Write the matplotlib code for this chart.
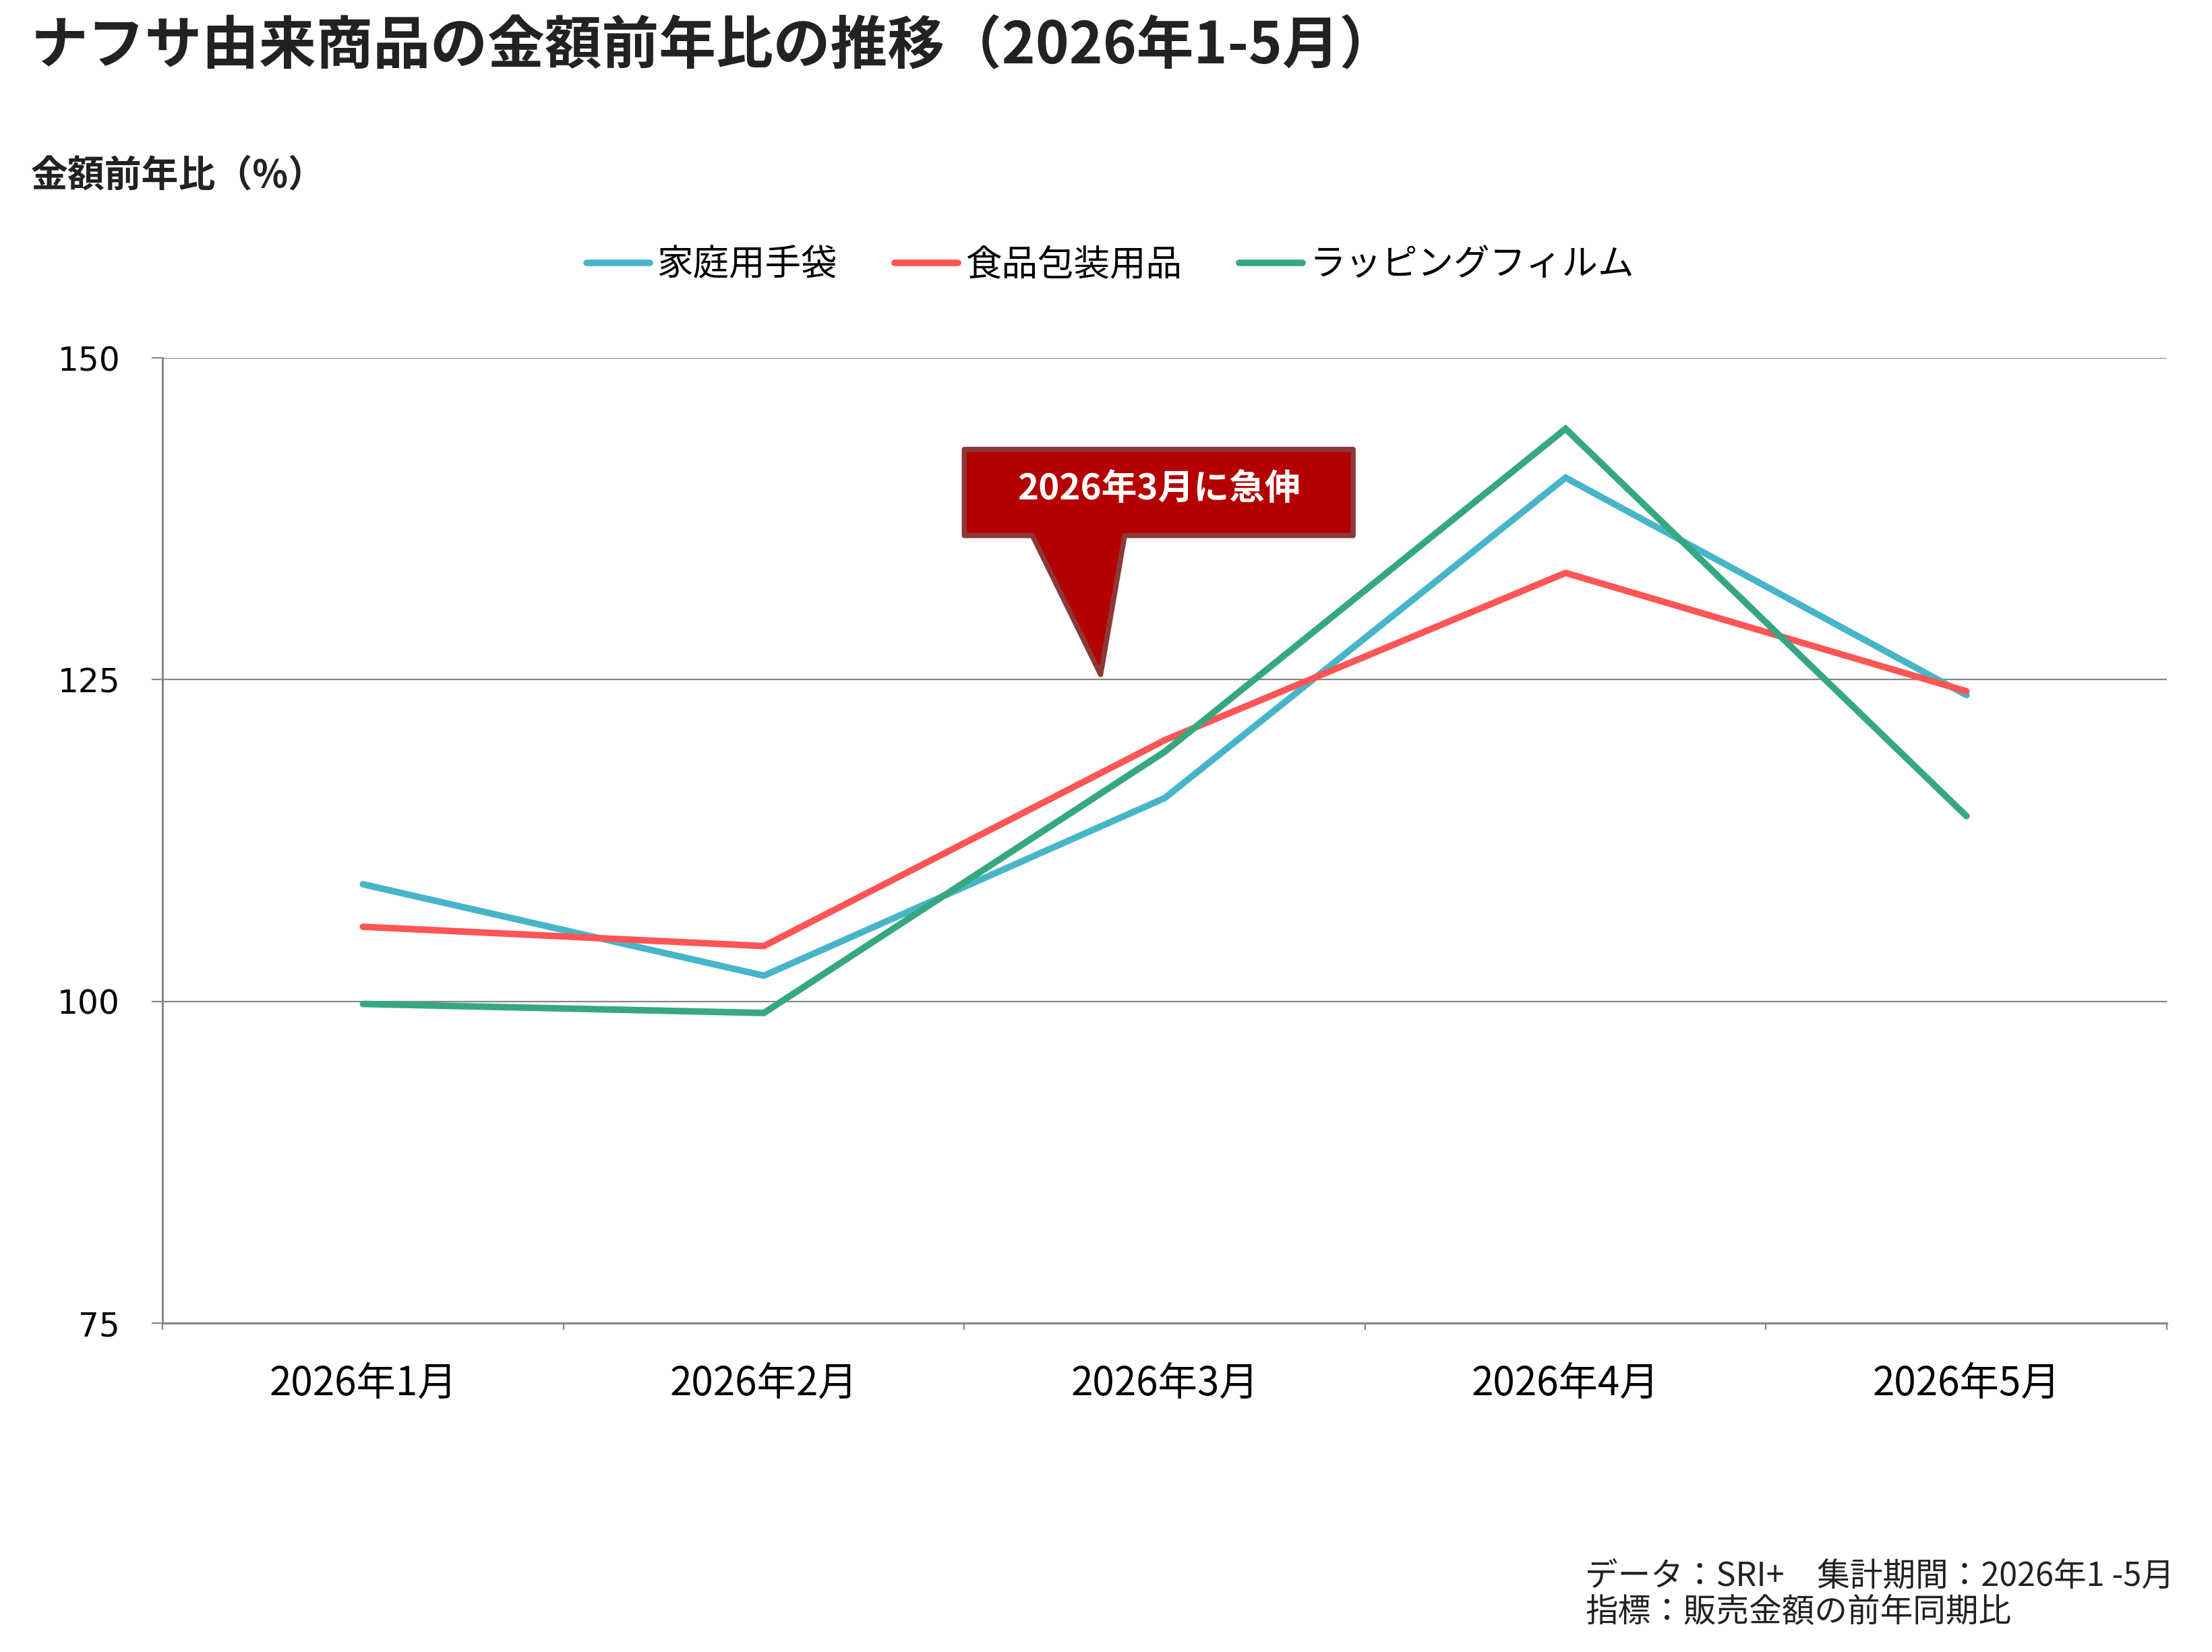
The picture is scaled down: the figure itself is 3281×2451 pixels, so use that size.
import matplotlib
matplotlib.use("Agg")
import matplotlib.pyplot as plt
from matplotlib.patches import Polygon
from matplotlib.ticker import FixedLocator

plt.rcParams['font.family'] = ['Noto Sans CJK JP', 'DejaVu Sans']

# --- データ ---
months = ['2026年1月', '2026年2月', '2026年3月', '2026年4月', '2026年5月']
series_names = ['家庭用手袋', '食品包装用品', 'ラッピングフィルム']
gloves = [109.1, 102.0, 115.8, 140.7, 123.8]
food_pack = [105.8, 104.3, 120.3, 133.3, 124.1]
wrap_film = [99.8, 99.1, 119.4, 144.5, 114.4]
colors = ['#47B5C9', '#FF5555', '#36A880']
y_ticks = [75, 100, 125, 150]

callout_text = '2026年3月に急伸'

fig = plt.figure(figsize=(32.81, 24.51), dpi=100)
ax = fig.add_axes([0.0735, 0.1991, 0.9061, 0.5842])

x = list(range(len(months)))
for vals, name, c in zip([gloves, food_pack, wrap_film], series_names, colors):
    ax.plot(x, vals, color=c, lw=7, label=name, solid_capstyle='round', solid_joinstyle='miter')

ax.set_xlim(-0.5, len(months) - 0.5)
ax.set_ylim(75, 150)
ax.set_yticks(y_ticks)
ax.grid(axis='y', color='#888888', lw=1.6)
ax.set_axisbelow(True)

ax.set_xticks(x)
ax.set_xticklabels(months, fontsize=42)
ax.xaxis.set_minor_locator(FixedLocator([i - 0.5 for i in range(len(months) + 1)]))
ax.tick_params(axis='x', which='major', length=0, pad=43)
ax.tick_params(axis='x', which='minor', length=7, width=1.6, color='#888888')
ax.tick_params(axis='y', length=11.5, width=1.6, color='#888888', pad=34, labelsize=35)
for lab in ax.get_yticklabels():
    lab.set_family('DejaVu Sans')

for s in ['top', 'right']:
    ax.spines[s].set_visible(False)
for s in ['left', 'bottom']:
    ax.spines[s].set_color('#888888')
    ax.spines[s].set_linewidth(2.2)

# 吹き出し
bx0, bx1, by0, by1 = 1.50, 2.47, 136.2, 142.9
px0, px1, tip = 1.67, 1.90, (1.84, 125.4)
callout = Polygon([(bx0, by1), (bx1, by1), (bx1, by0), (px1, by0), tip, (px0, by0), (bx0, by0)],
                  closed=True, facecolor='#B40000', edgecolor='#8C3838', lw=5.5,
                  joinstyle='round', zorder=5)
ax.add_patch(callout)
ax.text((bx0 + bx1) / 2, 139.8, callout_text, color='white', fontsize=38,
        fontweight='bold', ha='center', va='center', zorder=6)

# タイトル等
fig.text(0.014, 0.9718, 'ナフサ由来商品の金額前年比の推移（2026年1-5月）',
         fontsize=61, fontweight='bold', color='#222222', ha='left', va='center')
fig.text(0.014, 0.894, '金額前年比（%）', fontsize=39.5, fontweight='bold',
         color='#222222', ha='left', va='center')

fig.legend(loc='center', bbox_to_anchor=(0.502, 0.8397), ncol=3, frameon=False,
           fontsize=38.5, handlelength=1.75, handletextpad=0.2, columnspacing=1.6)

fig.text(0.983, 0.014, 'データ：SRI+　集計期間：2026年1 -5月\n指標：販売金額の前年同期比',
         fontsize=35, color='#222222', ha='right', va='bottom',
         multialignment='left', linespacing=1.1)

fig.savefig('out.png', dpi=100)
